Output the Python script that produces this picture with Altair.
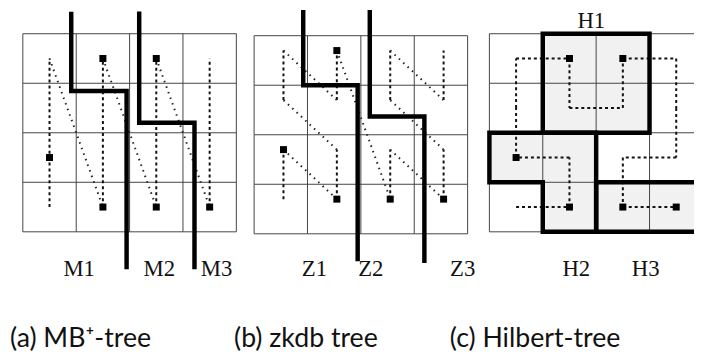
import altair as alt
import pandas as pd

# ---------------- data (cell units; row 0 = top row of each 4x4 grid) ----------------
panels = ["a", "b", "c"]
panel_x0 = [0.0, 4.333, 8.741]      # left edge of each grid, in cell widths
panel_y0 = [0.0, 0.04, 0.0]         # top edge of each grid, in cell heights
grid_n = 4

# visiting order of the cells (col, row)
order_a = [(0, 3), (0, 0), (1, 3), (1, 0), (2, 3), (2, 0), (3, 3), (3, 0)]
order_b = [(0, 3), (0, 2), (1, 3), (1, 2), (0, 1), (0, 0), (1, 1), (1, 0),
           (2, 3), (2, 2), (3, 3), (3, 2), (2, 1), (2, 0), (3, 1), (3, 0)]
order_c = [(0, 3), (1, 3), (1, 2), (0, 2), (0, 1), (0, 0), (1, 0), (1, 1),
           (2, 1), (2, 0), (3, 0), (3, 1), (3, 2), (2, 2), (2, 3), (3, 3)]
cell_offset = [(0.5, 0.5), (0.55, 0.3), (0.5, 0.5)]

# occupied cells (data points)
points_a = [(1, 0), (2, 0), (0, 2), (1, 3), (2, 3), (3, 3)]
points_b = [(1, 0), (0, 2), (1, 3), (2, 3), (3, 3)]
points_c = [(1, 0), (2, 0), (0, 2), (1, 3), (2, 3), (3, 3)]

# partition boundaries (col, row)
split_a1 = [(0.907, -0.40), (0.907, 1.158), (1.944, 1.158), (1.944, 4.71)]
split_a2 = [(2.18, -0.405), (2.18, 1.796), (3.216, 1.796), (3.216, 4.71)]
split_b1 = [(0.92, -0.56), (0.92, 1.0), (1.94, 1.0), (1.94, 4.51)]
split_b2 = [(2.167, -0.545), (2.167, 1.63), (3.19, 1.63), (3.19, 4.545)]
split_h1 = [(1, 0), (3, 0), (3, 2), (1, 2), (1, 0)]
split_h2 = [(0, 2), (2, 2), (2, 4), (1, 4), (1, 3), (0, 3), (0, 2)]
split_h3 = [(4.7, 3), (2, 3), (2, 4), (4.7, 4)]
shaded_c = [(1, 0), (2, 0), (1, 1), (2, 1), (0, 2), (1, 2), (1, 3), (2, 3), (3, 3)]

# node labels
node_labels = ["M1", "M2", "M3", "Z1", "Z2", "Z3", "H2", "H3", "H1"]
node_label_x = [1.056, 2.556, 3.63, 5.463, 6.52, 8.24, 10.37, 11.67, 10.65]
node_label_y = [4.89, 4.89, 4.89, 4.89, 4.89, 4.89, 4.89, 4.89, -0.12]

captions = ["(a) MB\u207a-tree", "(b) zkdb tree", "(c) Hilbert-tree"]
caption_x = [-0.24, 3.957, 8.0]
caption_y = 6.33

# ---------------- build tables ----------------
grid_rows = []
for p in range(3):
    for i in range(grid_n + 1):
        grid_rows.append(dict(x=panel_x0[p] + i, x2=panel_x0[p] + i,
                              y=panel_y0[p], y2=panel_y0[p] + grid_n))
        grid_rows.append(dict(x=panel_x0[p], x2=panel_x0[p] + grid_n,
                              y=panel_y0[p] + i, y2=panel_y0[p] + i))
grid_df = pd.DataFrame(grid_rows)

shade_df = pd.DataFrame([dict(x=panel_x0[2] + c, x2=panel_x0[2] + c + 1,
                              y=panel_y0[2] + r, y2=panel_y0[2] + r + 1)
                         for c, r in shaded_c])

seg_rows = []
for p, order in enumerate([order_a, order_b, order_c]):
    ox, oy = cell_offset[p]
    for (c1, r1), (c2, r2) in zip(order[:-1], order[1:]):
        kind = "straight" if (c1 == c2 or r1 == r2) else "diag"
        seg_rows.append(dict(x=panel_x0[p] + c1 + ox, y=panel_y0[p] + r1 + oy,
                             x2=panel_x0[p] + c2 + ox, y2=panel_y0[p] + r2 + oy,
                             kind=kind))
seg_df = pd.DataFrame(seg_rows)

pt_rows = []
for p, pts in enumerate([points_a, points_b, points_c]):
    ox, oy = cell_offset[p]
    for c, r in pts:
        pt_rows.append(dict(x=panel_x0[p] + c + ox, y=panel_y0[p] + r + oy))
pt_df = pd.DataFrame(pt_rows)

bold_rows = []
for name, p, pts in [("a1", 0, split_a1), ("a2", 0, split_a2),
                     ("b1", 1, split_b1), ("b2", 1, split_b2),
                     ("h1", 2, split_h1), ("h2", 2, split_h2), ("h3", 2, split_h3)]:
    for k, (c, r) in enumerate(pts):
        bold_rows.append(dict(id=name, seq=k, x=panel_x0[p] + c, y=panel_y0[p] + r))
bold_df = pd.DataFrame(bold_rows)

lab_df = pd.DataFrame(dict(label=node_labels, x=node_label_x, y=node_label_y))
cap_df = pd.DataFrame(dict(label=captions, x=caption_x, y=[caption_y] * 3))

# ---------------- scales ----------------
W, H = 694, 348
CW, CH = 54.0, 50.1
xs = alt.Scale(domain=[-15 / CW, (W - 15) / CW], nice=False, zero=False)
ys = alt.Scale(domain=[-24 / CH, (H - 24) / CH], nice=False, zero=False, reverse=True)
X = alt.X("x:Q", scale=xs, axis=None)
Y = alt.Y("y:Q", scale=ys, axis=None)

shade = alt.Chart(shade_df).mark_rect(color="#f1f1f1", clip=True).encode(
    x=X, y=Y, x2="x2:Q", y2="y2:Q")

grid = alt.Chart(grid_df).mark_rule(color="#444444", strokeWidth=1, clip=True).encode(
    x=X, y=Y, x2="x2:Q", y2="y2:Q")

straight = alt.Chart(seg_df).transform_filter(alt.datum.kind == "straight").mark_rule(
    color="#111111", strokeWidth=2, strokeDash=[3, 3]).encode(
    x=X, y=Y, x2="x2:Q", y2="y2:Q")

diag = alt.Chart(seg_df).transform_filter(alt.datum.kind == "diag").mark_rule(
    color="#222222", strokeWidth=2, strokeDash=[1.5, 4.5]).encode(
    x=X, y=Y, x2="x2:Q", y2="y2:Q")

bold = alt.Chart(bold_df).mark_line(color="black", strokeWidth=4.5, strokeCap="square",
                                    strokeJoin="miter", clip=True).encode(
    x=X, y=Y, detail="id:N", order="seq:Q")

squares = alt.Chart(pt_df).mark_square(size=50, color="black", opacity=1).encode(x=X, y=Y)

labels = alt.Chart(lab_df).mark_text(font="Liberation Serif", fontSize=23, color="#111111",
                                     align="center", baseline="alphabetic").encode(
    x=X, y=Y, text="label:N")

caps = alt.Chart(cap_df).mark_text(font="Lato", fontSize=27, color="#111111",
                                   align="left", baseline="alphabetic").encode(
    x=X, y=Y, text="label:N")

chart = alt.layer(shade, grid, straight, diag, bold, squares, labels, caps).properties(
    width=W, height=H, autosize=alt.AutoSizeParams(type="none"), padding=0,
    background="white"
).configure_view(stroke=None)

chart.save("out.html", embed_options={"renderer": "svg", "actions": False})
